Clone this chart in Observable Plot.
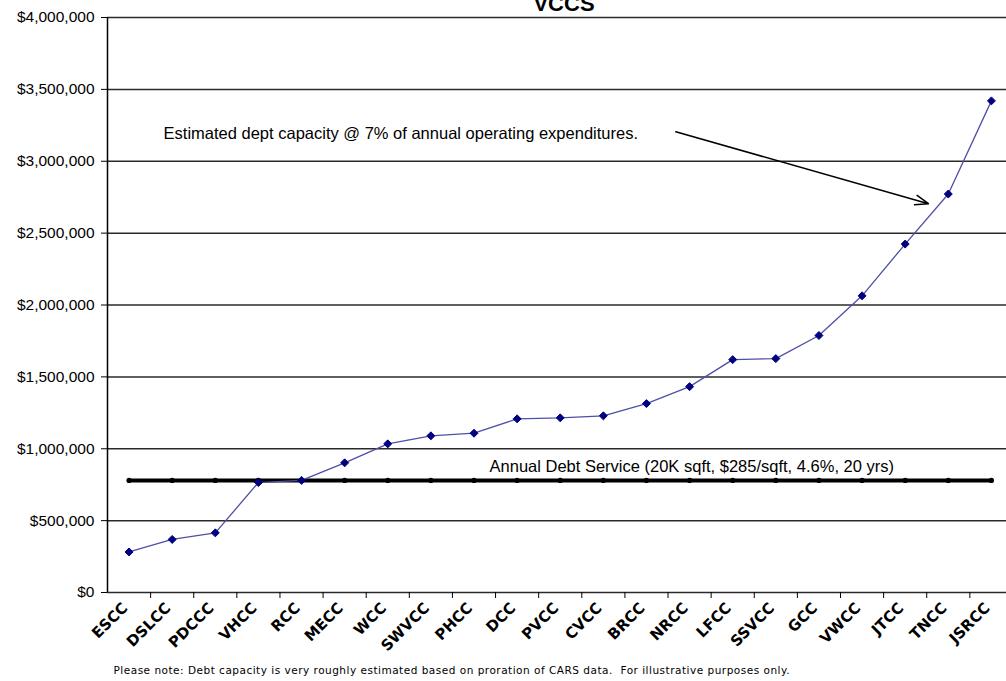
<!DOCTYPE html>
<html><head><meta charset="utf-8">
<script src="https://cdn.jsdelivr.net/npm/d3@7"></script>
<script src="https://cdn.jsdelivr.net/npm/@observablehq/plot@0.6"></script>
<style>body{margin:0;background:#fff} svg{display:block}</style>
</head><body><div id="chart"></div>
<script>
const title = "VCCS";
const colleges = ["ESCC","DSLCC","PDCCC","VHCC","RCC","MECC","WCC","SWVCC","PHCC","DCC","PVCC","CVCC","BRCC","NRCC","LFCC","SSVCC","GCC","VWCC","JTCC","TNCC","JSRCC"];
const capacity = [282000,369000,415000,765000,780000,902000,1034000,1090000,1108000,1208000,1215000,1229000,1314000,1432000,1620000,1627000,1788000,2064000,2424000,2772000,3420000];
const debtService = 780000;
const yTicks = [0,500000,1000000,1500000,2000000,2500000,3000000,3500000,4000000];
const capacityNote = "Estimated dept capacity @ 7% of annual operating expenditures.";
const debtNote = "Annual Debt Service (20K sqft, $285/sqft, 4.6%, 20 yrs)";
const footer = "Please note: Debt capacity is very roughly estimated based on proration of CARS data.  For illustrative purposes only.";
// annotation anchors in data units (category index, dollars)
const capacityNoteAt = {x: 0.8, y: 3191000};
const debtNoteAt = {x: 8.36, y: 876000};
const arrowAt = {x1: 12.68, y1: 3205000, x2: 18.54, y2: 2705000};

const data = colleges.map((c, i) => ({i, college: c, value: capacity[i]}));
const debtData = colleges.map((c, i) => ({i, value: debtService}));
const indices = colleges.map((c, i) => i);
const boundaries = colleges.map((c, i) => i + 0.5);

const chart = Plot.plot({
  width: 1006, height: 681,
  marginTop: 17, marginBottom: 89, marginLeft: 107, marginRight: 0,
  style: {fontFamily: "'Liberation Sans', Arial, sans-serif", background: "#fff", color: "#000"},
  x: {type: "linear", domain: [-0.5, 20.35], axis: null},
  y: {domain: [0, 4000000], axis: null},
  marks: [
    Plot.gridY(yTicks, {stroke: "#2a2a2a", strokeOpacity: 1, strokeWidth: 1.5}),
    Plot.ruleX([-0.5], {stroke: "#000", strokeWidth: 1.5}),
    Plot.axisY(yTicks, {tickFormat: d => "$" + d3.format(",")(d), tickSize: 6, tickPadding: 7, fontSize: 15.5}),
    Plot.axisX(boundaries, {tickFormat: () => "", tickSize: 6}),
    Plot.axisX(indices, {tickFormat: i => colleges[i], tickSize: 0, tickPadding: 13, tickRotate: -45, dx: -4, fontWeight: "bold", fontSize: 15, fontFamily: "'DejaVu Sans', sans-serif"}),
    Plot.line(debtData, {x: "i", y: "value", stroke: "#000", strokeWidth: 4}),
    Plot.dot(debtData, {x: "i", y: "value", fill: "#000", r: 2.6}),
    Plot.line(data, {x: "i", y: "value", stroke: "#4f4fa6", strokeWidth: 1.3}),
    Plot.dot(data, {x: "i", y: "value", symbol: "diamond2", fill: "#000080", stroke: "#000080", strokeWidth: 1, r: 3.6}),
    Plot.text([capacityNote], {x: capacityNoteAt.x, y: capacityNoteAt.y, text: d => d, textAnchor: "start", fontSize: 16.5, fill: "#000"}),
    Plot.text([debtNote], {x: debtNoteAt.x, y: debtNoteAt.y, text: d => d, textAnchor: "start", fontSize: 16.5, fill: "#000"}),
    Plot.arrow([arrowAt], {x1: "x1", y1: "y1", x2: "x2", y2: "y2", stroke: "#000", strokeWidth: 1.5, headLength: 14, headAngle: 40}),
    Plot.text([title], {frameAnchor: "top", text: d => d, lineAnchor: "bottom", dy: -7, dx: 7, fontSize: 22, fontWeight: "bold", fill: "#000"}),
    Plot.text([footer], {frameAnchor: "bottom-left", text: d => d, textAnchor: "start", dy: 81, dx: 6, fontSize: 10.5, fontFamily: "'DejaVu Sans', sans-serif", fill: "#000"})
  ]
});
// widen the footer's letter spacing like the reference's bitmap font
const texts = chart.querySelectorAll("text");
texts.forEach(t => { if (t.textContent === footer) t.setAttribute("letter-spacing", "0.5"); });
document.getElementById("chart").appendChild(chart);
</script>
</body></html>
